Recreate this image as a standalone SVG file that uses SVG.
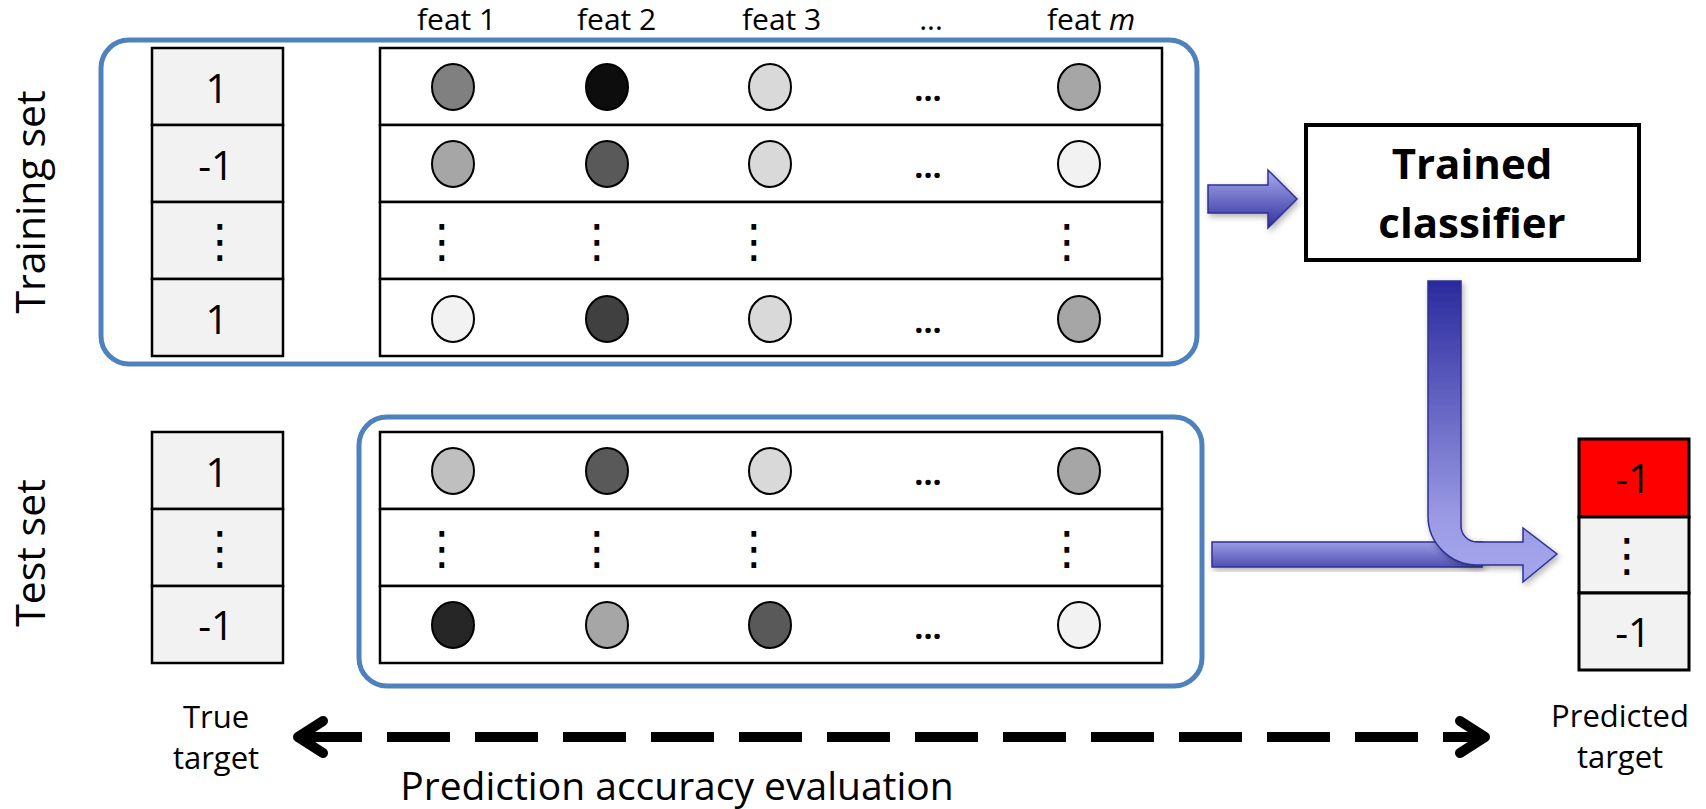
<svg xmlns="http://www.w3.org/2000/svg" width="1706" height="809" viewBox="0 0 1706 809">
  <defs>
    <style>
      text { font-family: "Open Sans", "Liberation Sans", sans-serif; fill: #000; }
      .side { font-size: 41px; }
      .head { font-size: 30px; }
      .num { font-size: 40px; text-anchor: middle; }
      .vdots { font-family: "DejaVu Sans", sans-serif; font-size: 46px; text-anchor: middle; }
      .hdots { font-size: 32px; font-weight: bold; text-anchor: middle; }
      .cap { font-size: 31px; text-anchor: middle; }
      .grp { fill: none; stroke: #4f81bd; stroke-width: 5; }
      .lbl { fill: #f2f2f2; stroke: #000; stroke-width: 2.5; }
      .row { fill: #fff; stroke: #000; stroke-width: 2.5; }
      .ft { stroke: #000; stroke-width: 2; }
      .blk { fill: none; stroke: #000; stroke-width: 10; stroke-linecap: round; stroke-linejoin: round; }
      .bar { stroke: #2e3192; stroke-width: 1.5; }
    </style>
    <linearGradient id="gRight" x1="0" y1="0" x2="0" y2="1">
      <stop offset="0" stop-color="#ababf0"/>
      <stop offset="1" stop-color="#30309c"/>
    </linearGradient>
    <linearGradient id="gBar" x1="0" y1="0" x2="0" y2="1">
      <stop offset="0" stop-color="#9c9ce7"/>
      <stop offset="1" stop-color="#5050b4"/>
    </linearGradient>
    <linearGradient id="gBend" x1="0" y1="0" x2="0" y2="1">
      <stop offset="0" stop-color="#2a2a9e"/>
      <stop offset="0.45" stop-color="#6a6ac6"/>
      <stop offset="0.8" stop-color="#9c9ce6"/>
      <stop offset="1" stop-color="#a6a6ee"/>
    </linearGradient>
    <filter id="shadow" x="-20%" y="-20%" width="140%" height="140%">
      <feDropShadow dx="2" dy="3" stdDeviation="3" flood-color="#000" flood-opacity="0.3"/>
    </filter>
  </defs>

  <rect width="1706" height="809" fill="#fff"/>

  <!-- side titles -->
  <g id="title-training">
    <text class="side" transform="translate(45,202) rotate(-90)" text-anchor="middle">Training set</text>
  </g>
  <g id="title-test">
    <text class="side" transform="translate(45,553) rotate(-90)" text-anchor="middle">Test set</text>
  </g>

  <!-- feature header -->
  <g id="feature-header">
    <text class="head" x="417" y="30">feat 1</text>
    <text class="head" x="577" y="30">feat 2</text>
    <text class="head" x="742" y="30">feat 3</text>
    <text class="head" x="931" y="30" text-anchor="middle">...</text>
    <text class="head" x="1047" y="30">feat <tspan font-style="italic">m</tspan></text>
  </g>

  <!-- training set -->
  <g id="training-set">
    <rect class="grp" x="101" y="40" width="1096" height="324" rx="28"/>
    <g id="training-labels">
      <rect class="lbl" x="152" y="48" width="131" height="77"/>
      <rect class="lbl" x="152" y="125" width="131" height="77"/>
      <rect class="lbl" x="152" y="202" width="131" height="77"/>
      <rect class="lbl" x="152" y="279" width="131" height="77"/>
      <text class="num" x="217" y="103">1</text>
      <text class="num" x="216" y="180">-1</text>
      <text class="vdots" x="220" y="257">⋮</text>
      <text class="num" x="217" y="334">1</text>
    </g>
    <g id="training-features">
      <rect class="row" x="380" y="48" width="782" height="77"/>
      <rect class="row" x="380" y="125" width="782" height="77"/>
      <rect class="row" x="380" y="202" width="782" height="77"/>
      <rect class="row" x="380" y="279" width="782" height="77"/>
      <ellipse class="ft" cx="453" cy="87" rx="21" ry="23" fill="#808080"/>
      <ellipse class="ft" cx="607" cy="87" rx="21" ry="23" fill="#0d0d0d"/>
      <ellipse class="ft" cx="770" cy="87" rx="21" ry="23" fill="#d9d9d9"/>
      <text class="hdots" x="928" y="101">...</text>
      <ellipse class="ft" cx="1079" cy="87" rx="21" ry="23" fill="#a6a6a6"/>
      <ellipse class="ft" cx="453" cy="164" rx="21" ry="23" fill="#a6a6a6"/>
      <ellipse class="ft" cx="607" cy="164" rx="21" ry="23" fill="#595959"/>
      <ellipse class="ft" cx="770" cy="164" rx="21" ry="23" fill="#d9d9d9"/>
      <text class="hdots" x="928" y="178">...</text>
      <ellipse class="ft" cx="1079" cy="164" rx="21" ry="23" fill="#f2f2f2"/>
      <text class="vdots" x="442" y="257">⋮</text>
      <text class="vdots" x="597" y="257">⋮</text>
      <text class="vdots" x="754" y="257">⋮</text>
      <text class="vdots" x="1067" y="257">⋮</text>
      <ellipse class="ft" cx="453" cy="319" rx="21" ry="23" fill="#f2f2f2"/>
      <ellipse class="ft" cx="607" cy="319" rx="21" ry="23" fill="#404040"/>
      <ellipse class="ft" cx="770" cy="319" rx="21" ry="23" fill="#d9d9d9"/>
      <text class="hdots" x="928" y="333">...</text>
      <ellipse class="ft" cx="1079" cy="319" rx="21" ry="23" fill="#a6a6a6"/>
    </g>
  </g>

  <!-- test set -->
  <g id="test-set">
    <g id="test-labels">
      <rect class="lbl" x="152" y="432" width="131" height="77"/>
      <rect class="lbl" x="152" y="509" width="131" height="77"/>
      <rect class="lbl" x="152" y="586" width="131" height="77"/>
      <text class="num" x="217" y="487">1</text>
      <text class="vdots" x="220" y="564">⋮</text>
      <text class="num" x="216" y="640">-1</text>
    </g>
    <rect class="grp" x="359" y="417" width="843" height="269" rx="28"/>
    <g id="test-features">
      <rect class="row" x="380" y="432" width="782" height="77"/>
      <rect class="row" x="380" y="509" width="782" height="77"/>
      <rect class="row" x="380" y="586" width="782" height="77"/>
      <ellipse class="ft" cx="453" cy="471" rx="21" ry="23" fill="#bfbfbf"/>
      <ellipse class="ft" cx="607" cy="471" rx="21" ry="23" fill="#595959"/>
      <ellipse class="ft" cx="770" cy="471" rx="21" ry="23" fill="#d9d9d9"/>
      <text class="hdots" x="928" y="485">...</text>
      <ellipse class="ft" cx="1079" cy="471" rx="21" ry="23" fill="#a6a6a6"/>
      <text class="vdots" x="442" y="564">⋮</text>
      <text class="vdots" x="597" y="564">⋮</text>
      <text class="vdots" x="754" y="564">⋮</text>
      <text class="vdots" x="1067" y="564">⋮</text>
      <ellipse class="ft" cx="453" cy="625" rx="21" ry="23" fill="#262626"/>
      <ellipse class="ft" cx="607" cy="625" rx="21" ry="23" fill="#a6a6a6"/>
      <ellipse class="ft" cx="770" cy="625" rx="21" ry="23" fill="#595959"/>
      <text class="hdots" x="928" y="639">...</text>
      <ellipse class="ft" cx="1079" cy="625" rx="21" ry="23" fill="#f2f2f2"/>
    </g>
  </g>

  <!-- classifier -->
  <g id="classifier">
    <rect x="1306" y="125" width="333" height="135" fill="#fff" stroke="#000" stroke-width="4"/>
    <text x="1472" y="179" font-size="42" font-weight="bold" text-anchor="middle">Trained</text>
    <text x="1472" y="238" font-size="42" font-weight="bold" text-anchor="middle">classifier</text>
  </g>

  <!-- predicted target -->
  <g id="predicted-target">
    <rect x="1579" y="439" width="110" height="78" fill="#ff0000" stroke="#000" stroke-width="3"/>
    <rect x="1579" y="517" width="110" height="76" fill="#f2f2f2" stroke="#000" stroke-width="3"/>
    <rect x="1579" y="593" width="110" height="77" fill="#f2f2f2" stroke="#000" stroke-width="3"/>
    <text class="num" x="1633" y="493">-1</text>
    <text class="vdots" x="1627" y="571">⋮</text>
    <text class="num" x="1633" y="647">-1</text>
  </g>

  <!-- bottom captions -->
  <g id="captions">
    <text class="cap" x="216" y="728">True</text>
    <text class="cap" x="216" y="769">target</text>
    <text class="cap" x="1620" y="727">Predicted</text>
    <text class="cap" x="1620" y="768">target</text>
    <text x="677" y="800" font-size="39" text-anchor="middle">Prediction accuracy evaluation</text>
  </g>

  <!-- connectors -->
  <g id="connectors">
    <path class="bar" d="M1208,185 L1268,185 L1268,170 L1297,199 L1268,228 L1268,213 L1208,213 Z" fill="url(#gRight)" filter="url(#shadow)"/>
    <rect class="bar" x="1212" y="542" width="270" height="25" fill="url(#gBar)" filter="url(#shadow)"/>
    <path class="bar" d="M1428,281 L1461,281 L1461,526 A16,16 0 0 0 1477,542 L1523,542 L1523,528 L1557,554 L1523,582 L1523,565 L1477,565 A49,49 0 0 1 1428,516 Z" fill="url(#gBend)" filter="url(#shadow)"/>
    <line x1="299" y1="737" x2="1486" y2="737" stroke="#000" stroke-width="10" stroke-dasharray="63 25"/>
    <polyline class="blk" points="323,721 298,737 323,753"/>
    <polyline class="blk" points="1460,721 1485,737 1460,753"/>
  </g>
</svg>
